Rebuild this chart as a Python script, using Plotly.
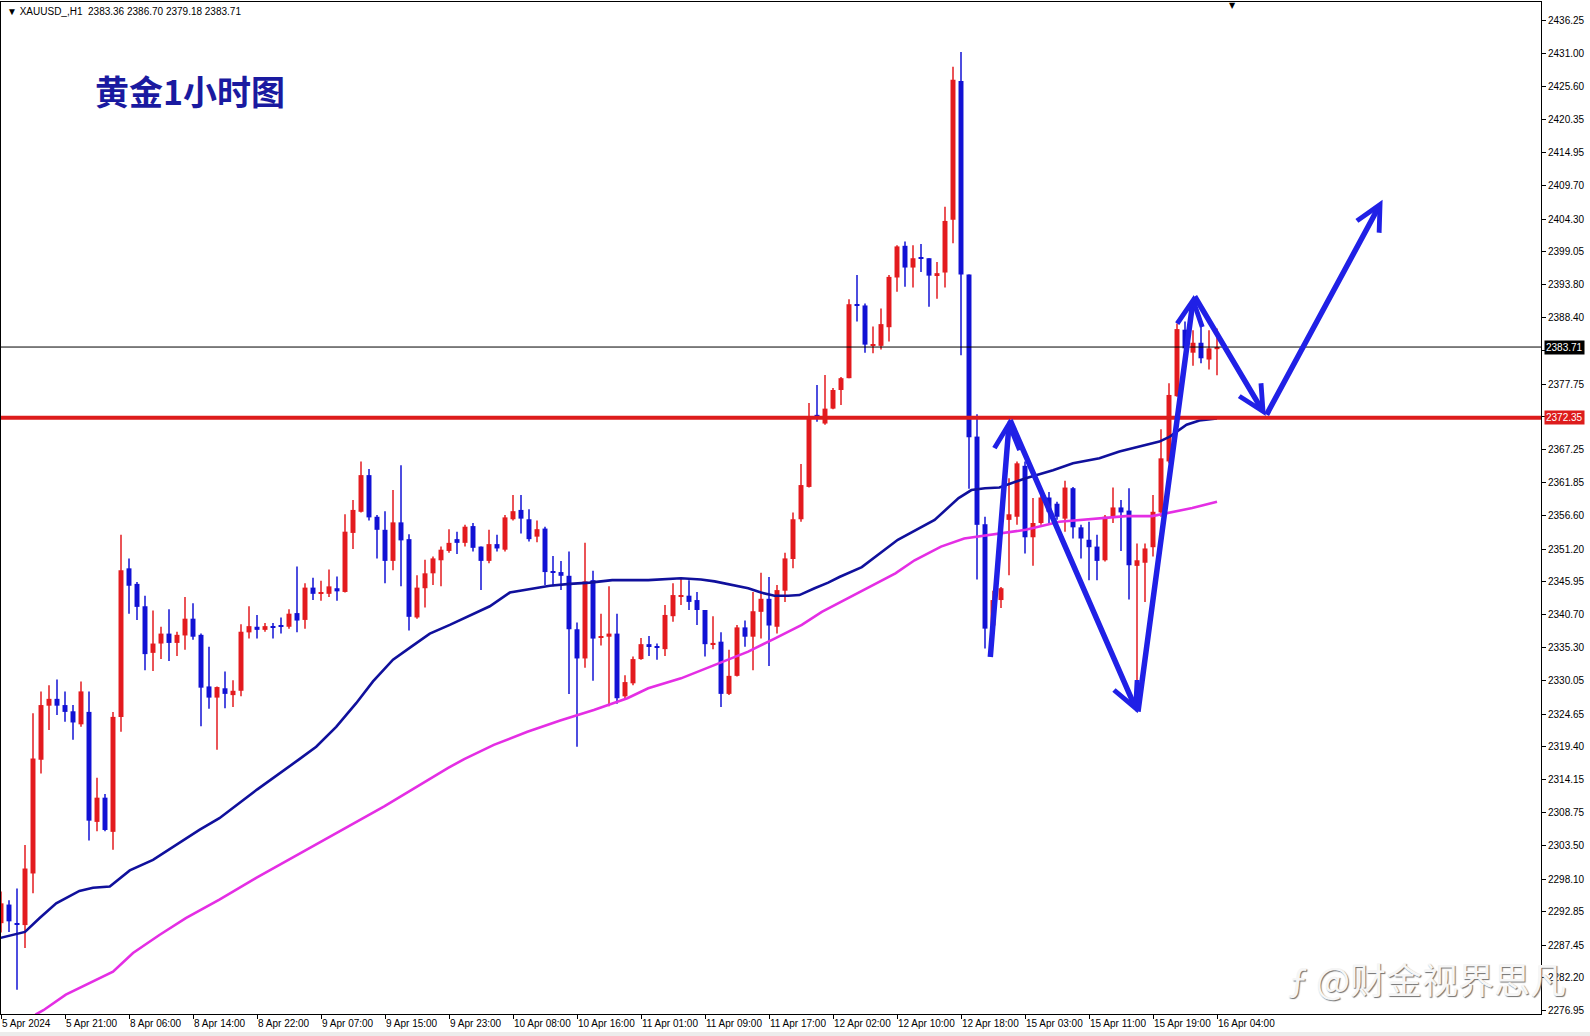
import plotly.graph_objects as go

# XAUUSD H1 bars, bar 0 is the first visible hour of 5 Apr 2024
bar_open = [2291.0, 2294.0, 2290.9, 2290.7, 2299.0, 2317.3, 2326.0, 2327.1, 2326.1, 2325.1,
            2323.0, 2325.0, 2307.3, 2311.2, 2305.7, 2324.2, 2348.1, 2345.6, 2342.0, 2334.5,
            2336.0, 2337.6, 2336.1, 2337.3, 2340.0, 2337.4, 2329.1, 2327.3, 2328.8, 2327.7,
            2328.4, 2337.8, 2338.7, 2338.2, 2338.8, 2338.9, 2338.7, 2340.9, 2339.8, 2345.0,
            2344.0, 2344.0, 2344.9, 2344.3, 2353.8, 2357.2, 2363.1, 2356.4, 2354.3, 2349.3,
            2355.5, 2352.8, 2340.2, 2344.9, 2347.3, 2349.4, 2350.9, 2352.8, 2352.2, 2354.9,
            2351.6, 2349.3, 2352.0, 2351.1, 2356.0, 2357.5, 2356.0, 2353.2, 2354.5, 2347.5,
            2347.5, 2346.9, 2338.3, 2333.6, 2346.2, 2337.0, 2337.1, 2337.6, 2327.5, 2329.6,
            2333.5, 2335.9, 2335.5, 2335.1, 2340.4, 2343.6, 2343.7, 2343.0, 2341.4, 2335.8,
            2336.3, 2327.9, 2330.8, 2338.6, 2337.1, 2341.1, 2343.2, 2338.7, 2344.5, 2349.6,
            2356.0, 2361.2, 2372.8, 2371.4, 2373.8, 2376.8, 2378.7, 2390.6, 2390.4, 2383.9,
            2383.9, 2386.9, 2394.9, 2400.0, 2396.5, 2398.1, 2398.0, 2395.3, 2395.7, 2404.2,
            2426.5, 2395.4, 2369.3, 2355.2, 2338.9, 2343.0, 2355.9, 2356.4, 2364.6, 2353.1,
            2355.4, 2359.5, 2358.5, 2356.1, 2361.0, 2354.7, 2352.7, 2351.6, 2349.4, 2356.4,
            2357.9, 2357.4, 2348.5, 2349.0, 2351.5, 2357.1, 2365.3, 2375.8, 2386.5, 2382.8,
            2384.4, 2381.7, 2383.36]
bar_high = [2296.1, 2294.7, 2296.6, 2303.6, 2324.8, 2328.3, 2329.3, 2330.2, 2328.3, 2326.1,
            2329.9, 2328.3, 2314.4, 2311.8, 2325.0, 2353.5, 2349.7, 2345.9, 2343.7, 2341.3,
            2338.7, 2341.5, 2337.9, 2343.5, 2342.5, 2337.6, 2335.5, 2329.1, 2331.5, 2330.1,
            2339.1, 2342.0, 2340.6, 2339.3, 2339.3, 2340.2, 2341.5, 2348.4, 2345.7, 2346.6,
            2346.1, 2347.9, 2346.8, 2356.8, 2359.1, 2365.3, 2364.1, 2356.7, 2357.3, 2360.7,
            2364.7, 2353.6, 2347.0, 2349.5, 2350.0, 2351.6, 2354.4, 2354.0, 2355.1, 2355.4,
            2351.6, 2354.3, 2353.5, 2356.7, 2359.9, 2359.9, 2357.6, 2355.8, 2354.8, 2350.1,
            2349.3, 2350.8, 2339.4, 2352.2, 2347.7, 2340.8, 2345.2, 2340.8, 2330.9, 2333.9,
            2336.9, 2337.2, 2336.0, 2342.2, 2345.7, 2346.5, 2346.2, 2344.3, 2341.4, 2340.4,
            2337.8, 2335.0, 2339.0, 2339.7, 2344.3, 2347.4, 2346.7, 2345.4, 2350.6, 2357.1,
            2364.9, 2374.7, 2377.6, 2379.2, 2377.1, 2378.9, 2391.4, 2395.3, 2390.7, 2387.0,
            2389.9, 2395.3, 2400.1, 2400.7, 2400.1, 2400.3, 2398.0, 2397.4, 2406.3, 2428.8,
            2431.2, 2395.4, 2372.9, 2356.4, 2344.5, 2345.1, 2362.6, 2365.3, 2365.3, 2359.4,
            2359.9, 2360.4, 2358.8, 2362.2, 2361.2, 2355.1, 2355.6, 2353.5, 2356.7, 2361.1,
            2359.1, 2361.0, 2352.1, 2352.1, 2359.9, 2370.5, 2377.9, 2387.5, 2387.8, 2386.4,
            2387.5, 2386.4, 2386.70]
bar_low = [2289.5, 2289.6, 2280.3, 2287.0, 2295.8, 2315.1, 2322.1, 2324.5, 2323.4, 2320.5,
           2322.6, 2304.3, 2305.8, 2305.8, 2302.8, 2321.8, 2340.8, 2339.8, 2331.7, 2331.6,
           2333.5, 2333.2, 2334.0, 2335.0, 2336.6, 2322.7, 2325.5, 2318.9, 2325.6, 2325.8,
           2327.5, 2336.8, 2336.8, 2337.9, 2336.8, 2337.6, 2338.4, 2337.8, 2338.4, 2343.0,
           2342.9, 2343.5, 2342.9, 2344.2, 2351.2, 2357.1, 2355.8, 2349.7, 2345.7, 2347.8,
           2345.2, 2338.1, 2340.0, 2341.8, 2345.4, 2345.2, 2350.6, 2350.4, 2351.6, 2350.8,
           2344.6, 2348.9, 2350.8, 2350.8, 2355.8, 2353.7, 2352.4, 2352.3, 2345.4, 2345.2,
           2344.6, 2327.9, 2319.4, 2332.1, 2330.0, 2335.7, 2325.9, 2326.3, 2326.9, 2329.3,
           2333.4, 2334.0, 2333.4, 2334.0, 2339.5, 2342.2, 2341.4, 2339.0, 2333.9, 2335.1,
           2325.8, 2327.7, 2330.7, 2335.5, 2331.7, 2336.8, 2332.4, 2337.6, 2342.7, 2348.1,
           2355.6, 2361.1, 2371.7, 2371.2, 2373.7, 2374.4, 2378.7, 2387.8, 2382.8, 2382.7,
           2383.3, 2384.6, 2392.6, 2393.4, 2393.3, 2395.8, 2390.2, 2391.5, 2393.3, 2400.4,
           2382.4, 2360.9, 2346.3, 2335.2, 2337.5, 2341.7, 2347.0, 2355.1, 2350.5, 2348.5,
           2355.1, 2355.3, 2355.9, 2354.0, 2352.9, 2349.7, 2346.2, 2346.2, 2349.2, 2355.4,
           2350.9, 2343.1, 2328.5, 2342.7, 2350.0, 2356.4, 2365.0, 2375.7, 2382.5, 2380.7,
           2381.1, 2380.1, 2379.18]
bar_close = [2294.2, 2291.3, 2290.8, 2299.8, 2317.5, 2326.1, 2327.1, 2326.0, 2325.0, 2323.3,
             2328.3, 2307.5, 2311.2, 2306.0, 2324.2, 2347.8, 2345.3, 2341.9, 2334.3, 2336.0,
             2337.6, 2336.1, 2337.4, 2340.0, 2337.1, 2328.9, 2327.3, 2329.0, 2327.9, 2328.4,
             2337.9, 2338.8, 2338.2, 2338.8, 2338.6, 2338.8, 2340.8, 2339.7, 2345.0, 2344.0,
             2344.1, 2345.2, 2344.4, 2354.0, 2357.5, 2363.1, 2356.3, 2354.3, 2349.3, 2355.5,
             2352.6, 2340.3, 2345.0, 2347.3, 2349.7, 2351.1, 2352.2, 2352.2, 2354.8, 2351.4,
             2349.3, 2352.0, 2351.3, 2356.3, 2357.3, 2356.1, 2352.8, 2354.4, 2347.5, 2347.4,
             2346.9, 2338.3, 2333.6, 2346.0, 2336.8, 2337.2, 2337.6, 2327.2, 2329.8, 2333.5,
             2335.9, 2335.6, 2335.3, 2340.6, 2343.8, 2343.8, 2342.7, 2341.4, 2335.9, 2336.1,
             2327.9, 2330.8, 2338.6, 2337.1, 2341.2, 2343.2, 2338.9, 2344.6, 2349.7, 2356.0,
             2361.5, 2372.5, 2372.2, 2373.8, 2376.8, 2378.7, 2390.6, 2390.4, 2384.1, 2384.2,
             2387.4, 2395.0, 2399.9, 2396.5, 2398.0, 2397.9, 2395.2, 2395.6, 2404.0, 2426.7,
             2395.4, 2369.2, 2355.1, 2338.4, 2343.0, 2344.9, 2356.8, 2365.0, 2353.1, 2355.4,
             2359.5, 2357.2, 2356.4, 2361.1, 2354.7, 2352.9, 2351.5, 2349.3, 2356.4, 2357.9,
             2357.1, 2348.6, 2349.4, 2351.3, 2357.2, 2365.8, 2376.0, 2386.6, 2383.5, 2384.4,
             2381.9, 2383.5, 2383.71]

# time labels, one every 8 bars
tick_bars = list(range(0, 153, 8))
tick_text = ["5 Apr 2024", "5 Apr 21:00", "8 Apr 06:00", "8 Apr 14:00", "8 Apr 22:00",
             "9 Apr 07:00", "9 Apr 15:00", "9 Apr 23:00", "10 Apr 08:00", "10 Apr 16:00",
             "11 Apr 01:00", "11 Apr 09:00", "11 Apr 17:00", "12 Apr 02:00", "12 Apr 10:00",
             "12 Apr 18:00", "15 Apr 03:00", "15 Apr 11:00", "15 Apr 19:00", "16 Apr 04:00"]

price_ticks = [2436.25, 2431.00, 2425.60, 2420.35, 2414.95, 2409.70, 2404.30, 2399.05,
               2393.80, 2388.40, 2383.15, 2377.75, 2372.50, 2367.25, 2361.85, 2356.60,
               2351.20, 2345.95, 2340.70, 2335.30, 2330.05, 2324.65, 2319.40, 2314.15,
               2308.75, 2303.50, 2298.10, 2292.85, 2287.45, 2282.20, 2276.95]

# moving averages, read at points along each curve (bar position, price)
ma_blue_x = [-0.2, 3.0, 4.8, 6.9, 9.8, 11.5, 13.6, 16.1, 19.0, 22.3, 24.8, 27.3, 32.0,
             37.3, 39.4, 41.9, 44.4, 46.5, 49.0, 51.3, 53.6, 56.1, 59.4, 61.1, 63.6, 66.1,
             68.6, 71.1, 73.6, 76.4, 80.9, 85.0, 87.5, 89.2, 91.3, 93.4, 95.0, 96.7, 98.4,
             99.8, 101.7, 103.4, 104.8, 107.6, 112.1, 116.7, 119.7, 121.3, 123.0, 124.8,
             128.1, 131.5, 134.0, 137.3, 139.8, 142.3, 144.8, 146.1, 148.2, 149.8, 152.0]
ma_blue_y = [2288.6, 2289.6, 2291.8, 2294.2, 2296.2, 2296.7, 2296.9, 2299.5, 2301.2, 2303.9,
             2306.0, 2307.9, 2312.5, 2317.4, 2319.4, 2322.6, 2326.4, 2329.9, 2333.4, 2335.5,
             2337.6, 2339.0, 2340.9, 2342.0, 2344.2, 2344.7, 2345.3, 2345.6, 2345.8, 2346.2,
             2346.2, 2346.5, 2346.3, 2346.0, 2345.4, 2344.9, 2344.2, 2343.7, 2343.7, 2343.8,
             2344.9, 2345.8, 2346.7, 2348.3, 2352.7, 2355.9, 2359.4, 2360.7, 2361.0, 2361.1,
             2362.6, 2363.9, 2365.0, 2365.8, 2366.9, 2367.7, 2368.5, 2369.3, 2371.2, 2371.9,
             2372.2]
ma_pink_x = [4.3, 5.3, 8.1, 11.5, 14.0, 16.5, 19.8, 23.1, 27.3, 31.9, 39.9, 47.9, 55.9,
             57.9, 61.6, 65.8, 69.9, 74.1, 78.3, 80.9, 85.0, 89.2, 93.4, 96.7, 100.1, 102.6,
             104.8, 111.8, 114.2, 117.5, 120.4, 123.9, 128.1, 132.3, 136.4, 140.6, 143.9,
             146.8, 148.9, 152.0]
ma_pink_y = [2276.3, 2277.0, 2279.5, 2281.6, 2283.2, 2286.2, 2289.1, 2291.8, 2294.8, 2298.3,
             2304.0, 2309.8, 2316.0, 2317.4, 2319.7, 2321.8, 2323.6, 2325.3, 2327.2, 2328.8,
             2330.4, 2332.5, 2334.7, 2336.8, 2339.0, 2341.1, 2342.6, 2347.3, 2349.4, 2351.6,
             2352.9, 2353.5, 2354.3, 2355.6, 2356.1, 2356.5, 2356.5, 2357.2, 2357.8, 2358.8]

# hand-drawn zigzag arrows (turning points)
zigzag_x = [123.65, 126.06, 142.1, 149.1, 158.1, 172.7]
zigzag_y = [2333.6, 2372.2, 2324.8, 2392.1, 2372.6, 2407.4]

last_price = 2383.71
support_level = 2372.35

RED = "#e31b1f"
BLUE = "#1212d4"
AXIS_FONT = dict(family="Liberation Sans, Arial, sans-serif", size=10, color="black")

idx = list(range(len(bar_open)))
up = [c >= o for o, c in zip(bar_open, bar_close)]
colors = [RED if u else BLUE for u in up]
bases = [min(o, c) for o, c in zip(bar_open, bar_close)]
heights = [max(abs(c - o), 0.18) for o, c in zip(bar_open, bar_close)]

fig = go.Figure()

# wicks, one trace per colour
for flag, col in [(True, RED), (False, BLUE)]:
    wx, wy = [], []
    for k in idx:
        if up[k] == flag:
            wx += [k, k, None]
            wy += [bar_low[k], bar_high[k], None]
    fig.add_trace(go.Scatter(x=wx, y=wy, mode="lines", line=dict(color=col, width=1.5),
                             hoverinfo="skip"))

# candle bodies
fig.add_trace(go.Bar(x=idx, y=heights, base=bases, width=0.62,
                     marker=dict(color=colors, line=dict(width=0))))

fig.add_trace(go.Scatter(x=ma_blue_x, y=ma_blue_y, mode="lines",
                         line=dict(color="#10109c", width=2.6)))
fig.add_trace(go.Scatter(x=ma_pink_x, y=ma_pink_y, mode="lines",
                         line=dict(color="#e42ee4", width=2.6)))

fig.add_hline(y=last_price, line=dict(color="black", width=1))
fig.add_hline(y=support_level, line=dict(color="#dd1c1c", width=4))

# thin grey strip under the time labels
fig.add_shape(type="rect", xref="paper", yref="paper", x0=-0.01, x1=1.04,
              y0=-0.0218, y1=-0.0178, fillcolor="#ececec", line=dict(width=0))

annotations = [
    dict(text="▼ XAUUSD_,H1  2383.36 2386.70 2379.18 2383.71", xref="paper", yref="paper",
         x=0, y=1, xanchor="left", yanchor="top", xshift=4, yshift=-2, showarrow=False,
         font=dict(family="Liberation Sans, DejaVu Sans, sans-serif", size=10, color="black")),
    dict(text="<b>黄金1小时图</b>", xref="paper", yref="paper", x=0.1227, y=0.913,
         xanchor="center", yanchor="middle", showarrow=False,
         font=dict(family="Noto Sans CJK SC", size=34, color="#1a1aa0")),
    dict(text="▼", xref="x", yref="paper", x=153.9, y=1, xanchor="center", yanchor="top",
         yshift=3, showarrow=False, font=dict(family="DejaVu Sans", size=8, color="black")),
    dict(text="2383.71", xref="paper", yref="y", x=1, y=last_price, xanchor="left",
         yanchor="middle", xshift=3, showarrow=False, bgcolor="black", borderpad=1,
         font=dict(family="Liberation Sans, Arial", size=10, color="white")),
    dict(text="2372.35", xref="paper", yref="y", x=1, y=support_level, xanchor="left",
         yanchor="middle", xshift=3, showarrow=False, bgcolor="#dd1c1c", borderpad=1,
         font=dict(family="Liberation Sans, Arial", size=10, color="white")),
    dict(text="ƒ @财金视界思凡", xref="paper", yref="paper", x=0.926, y=0.036,
         xanchor="center", yanchor="middle", showarrow=False,
         font=dict(family="Noto Sans CJK SC", size=36, color="#f6f6f6",
                   shadow="1px 1px 1px #707070")),
]

for i in range(len(zigzag_x) - 1):
    annotations.append(dict(
        x=zigzag_x[i + 1], y=zigzag_y[i + 1], ax=zigzag_x[i], ay=zigzag_y[i],
        xref="x", yref="y", axref="x", ayref="y", text="", showarrow=True,
        arrowhead=5, arrowsize=0.9, arrowwidth=5.5, arrowcolor="#2020e6", standoff=0))

fig.update_layout(
    width=1590, height=1036,
    margin=dict(l=1, r=49, t=2, b=22),
    paper_bgcolor="white", plot_bgcolor="white",
    showlegend=False,
    annotations=annotations,
    xaxis=dict(range=[0, 192.5], tickvals=tick_bars, ticktext=tick_text, tickangle=0,
               ticks="outside", ticklen=4, tickcolor="black", ticklabelposition="outside right",
               showline=True, linecolor="black", linewidth=1, mirror=True,
               showgrid=False, zeroline=False, tickfont=AXIS_FONT),
    yaxis=dict(side="right", range=[2276.39, 2439.23], tickvals=price_ticks,
               ticktext=[f"{v:.2f}" for v in price_ticks],
               ticks="outside", ticklen=4, tickcolor="black",
               showline=True, linecolor="black", linewidth=1, mirror=True,
               showgrid=False, zeroline=False, tickfont=AXIS_FONT),
)

# the page body has a default 8px margin; remove it so the chart sits at the window corner
fig.write_html("out.html", config={"displayModeBar": False},
               post_script="document.body.style.margin='0px';")
